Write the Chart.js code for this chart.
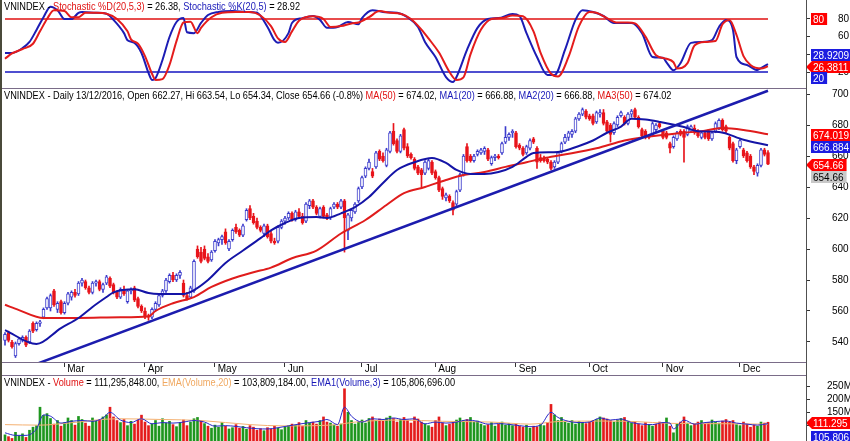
<!DOCTYPE html>
<html>
<head>
<meta charset="utf-8">
<script src="https://cdn.jsdelivr.net/npm/chart.js@4.4.1/dist/chart.umd.min.js"></script>
<style>
body { margin: 0; background: #fff; }
#wrap { position: relative; width: 850px; height: 441px; overflow: hidden; background: #fff; }
canvas { position: absolute; left: 0; }
.t { position: absolute; left: 4px; font-family: 'Liberation Sans', Arial, sans-serif;
     font-size: 11.5px; line-height: 12px; white-space: nowrap; color: #000;
     transform: scaleX(0.8); transform-origin: 0 0; }
.r { color: #e01010; }
.b { color: #1818b8; }
.o { color: #f0a860; }
.hl { position: absolute; left: 0; width: 806px; height: 1px; background: #7a6c88; }
</style>
</head>
<body>
<div id="wrap">
  <canvas id="cS" width="850" height="88" style="top:0"></canvas>
  <canvas id="cP" width="850" height="287" style="top:89px"></canvas>
  <canvas id="cV" width="850" height="65" style="top:376px"></canvas>
  <div class="hl" style="top:88px"></div>
  <div class="hl" style="top:362px"></div>
  <div class="hl" style="top:375px"></div>
  <div style="position:absolute;left:806px;top:0;width:1px;height:441px;background:#505050"></div>
  <div style="position:absolute;left:0;top:0;width:2px;height:441px;background:#4a4a3a"></div>
  <div class="t" style="top:0">VNINDEX - <span class="r">Stochastic %D(20,5,3)</span> = 26.38, <span class="b">Stochastic %K(20,5)</span> = 28.92</div>
  <div class="t" style="top:89px">VNINDEX - Daily 13/12/2016, Open 662.27, Hi 663.54, Lo 654.34, Close 654.66 (-0.8%) <span class="r">MA(50)</span> = 674.02, <span class="b">MA1(20)</span> = 666.88, <span class="b">MA2(20)</span> = 666.88, <span class="r">MA3(50)</span> = 674.02</div>
  <div class="t" style="top:376px">VNINDEX - <span class="r">Volume</span> = 111,295,848.00, <span class="o">EMA(Volume,20)</span> = 103,809,184.00, <span class="b">EMA1(Volume,3)</span> = 105,806,696.00</div>
</div>
<script>
// month start bars and labels
const monthIdx = [17, 40, 60, 80, 102, 123, 146, 167, 188, 210];
const monthLbl = ['Mar', 'Apr', 'May', 'Jun', 'Jul', 'Aug', 'Sep', 'Oct', 'Nov', 'Dec'];

// daily candles, 28/01/2016 .. 13/12/2016
const opens = [541,546,540,531,539,541,543,540,552,548,552,556,562,562,573,561,566,
  559,565,569,572,571,578,579,575,572,578,579,574,578,581,577,572,569,574,566,573,575,568,563,
  560,557,556,561,564,570,573,579,583,580,583,578,570,569,573,600,598,600,595,593,
  599,604,606,611,600,606,614,612,609,619,626,621,618,614,610,615,610,605,605,614,
  618,620,623,619,624,621,618,628,631,627,621,627,622,620,627,629,627,631,612,620,624,631,
  640,647,652,650,653,663,660,654,663,676,670,663,677,666,661,658,653,651,649,652,656,
  650,646,639,633,634,630,629,638,648,666,660,657,661,662,663,664,655,659,660,662,669,672,675,
  675,667,665,662,665,671,665,659,658,658,656,653,656,663,669,672,674,676,684,687,689,
  686,686,682,687,688,682,680,675,680,686,685,681,687,690,685,677,676,673,674,677,681,
  676,675,668,666,671,676,676,674,676,678,676,672,675,676,671,676,678,683,679,672,668,657,
  666,664,662,660,653,649,654,664,662.27];
const highs = [546,547,541,540,543,544,544,548,553,553,554,562,569,571,574,566,567,
  566,572,573,574,579,581,580,576,579,580,580,578,583,582,578,573,575,576,574,575,576,569,564,
  562,558,562,566,571,574,581,584,585,584,586,580,572,576,593,602,601,602,597,599,
  606,607,609,613,606,613,616,613,616,626,628,623,620,615,616,616,612,607,615,619,
  621,624,624,625,626,623,630,632,632,628,627,628,623,627,630,630,632,632,623,626,630,640,
  647,653,658,652,663,664,662,665,676,681,671,674,678,668,662,659,654,652,657,658,657,
  651,647,640,636,635,631,638,649,661,668,661,661,664,665,666,665,660,661,661,669,679,675,677,
  676,668,666,667,671,672,666,661,660,659,657,657,663,669,674,676,677,685,688,691,690,
  687,687,689,690,690,683,681,682,686,689,686,688,690,691,686,678,677,674,682,681,682,
  677,676,669,673,676,677,677,680,680,680,677,676,676,677,676,682,684,684,680,673,669,665,
  671,665,663,661,654,655,665,665,663.54];
const lows = [538,540,536,530,538,540,537,539,546,547,550,555,561,560,563,559,558,
  558,564,567,569,570,576,574,571,571,576,573,572,577,575,571,568,568,570,565,571,566,562,559,
  555,554,555,560,563,569,572,578,579,579,581,569,567,568,572,594,591,593,591,592,
  598,602,603,603,599,605,610,608,608,618,619,616,613,611,608,607,604,603,604,613,
  616,619,618,618,620,616,617,626,626,622,620,620,619,619,626,626,626,598,606,618,623,630,
  639,646,651,646,652,657,656,653,662,667,662,662,664,659,658,651,648,640,648,651,648,
  645,637,632,631,630,622,628,637,647,656,656,656,660,661,661,657,654,657,658,661,668,670,672,
  665,664,660,661,664,668,652,656,656,655,651,652,655,662,668,670,672,675,683,686,684,
  683,680,681,685,680,675,669,674,679,685,680,680,685,684,678,672,671,671,673,675,678,
  671,671,662,665,670,673,656,673,675,674,672,671,671,670,670,675,677,676,675,664,656,655,
  665,659,656,652,648,647,653,660,654.34];
const closes = [545,541,537,539,542,543,538,547,547,552,553,561,568,570,564,565,559,
  565,571,572,570,578,580,575,572,578,579,574,577,582,576,572,569,574,571,573,574,567,563,560,
  557,556,561,565,570,573,580,583,580,583,585,570,568,575,592,595,592,594,592,598,
  605,606,608,604,605,612,611,609,615,625,620,617,614,612,615,608,605,604,614,618,
  620,623,619,624,621,617,629,631,627,623,626,621,620,626,629,627,631,620,622,625,629,639,
  646,652,656,647,662,658,657,664,675,668,663,673,665,660,659,652,649,648,656,657,649,
  646,638,634,635,631,625,637,648,660,657,657,660,663,664,665,658,659,660,659,668,672,674,676,
  666,665,661,666,670,669,656,657,657,656,652,656,662,668,672,675,676,684,687,690,685,
  684,681,688,688,681,676,674,681,685,688,681,687,689,685,679,673,672,672,681,680,679,
  672,672,665,672,675,674,672,679,679,675,673,675,672,671,675,681,683,677,676,665,657,664,
  670,660,657,653,650,654,664,661,654.66];
// volume, millions
const vols = [62,55,48,72,58,66,52,80,92,98,170,138,145,126,104,118,96,
  110,128,118,100,134,122,108,96,128,115,120,132,140,170,132,118,110,122,98,115,104,120,139,
  112,98,105,118,96,125,108,115,102,94,110,120,98,112,125,130,118,106,96,88,
  100,92,110,96,85,90,102,88,95,84,98,92,80,86,78,90,84,96,88,82,
  92,98,104,100,110,96,118,108,112,104,118,132,112,108,100,96,104,242,150,118,104,112,
  120,108,126,132,118,124,115,128,135,126,112,122,130,118,108,132,124,112,104,98,92,
  118,132,108,98,104,112,120,128,118,122,130,112,116,104,98,102,110,96,104,112,100,106,98,
  104,96,92,100,88,96,94,102,98,110,181,140,118,130,112,108,118,104,114,110,106,
  112,118,122,132,128,124,118,112,120,126,130,116,108,112,104,98,110,102,96,104,112,
  110,128,96,70,104,112,132,108,98,104,112,118,104,110,120,112,108,116,122,112,118,102,
  98,112,104,92,100,96,112,108,111.3];

// moving averages (bar index, value)
const ma20Idx = [0,9,16,21,25,29,31,37,41,44,51,54,58,63,68,73,76,80,84,89,92,96,100,104,108,112,117,122,126,129,
  133,137,141,145,149,151,158,164,168,172,176,179,183,187,194,198,204,211,218];
const ma20Val = [547.7,538.7,549,555.5,562.6,569,572,574,571.6,571,571,573.5,580,591,599,607,612,616.8,620,620.6,
  620,623,627,633.5,642.6,651,656,658.7,655.5,651,648.4,648.4,649.7,653,659.4,662,662.6,666.5,670,675,
  679,684,683.5,682,678.7,676,675.5,670.5,666.88];
const ma50Idx = [0,4,11,21,33,41,43,48,54,59,65,71,76,82,89,96,103,109,114,120,126,131,137,143,149,154,159,169,177,182,
  188,194,199,205,211,218];
const ma50Val = [564,560.6,555.5,555.5,556,556.5,560,565,569,575.5,581,585,588,594,599,610,618.7,628.4,636,640,
  644.5,647.7,649.7,653,656,658.5,660.6,665,670,672,673.5,675,676,678,676.8,674.02];
const trendIdx = [8, 218];
const trendVal = [525.0, 702.1];

// stochastic
const kIdx = [0,2,5,7,9,11,13,15,17,19,21,22,26,29,31,34,35,37,39,41,42,43,45,47,49,51,52,54,56,58,
  61,65,69,72,75,77,78,81,82,85,88,90,92,95,98,101,102,105,108,112,115,118,120,123,126,128,129,132,135,138,
  141,145,147,149,152,155,157,160,163,165,168,171,174,176,179,182,185,188,189,191,193,196,199,202,204,206,208,209,212,215,
  216,218];
const kVal = [41.5,41.5,47,54,67.6,82,94,90,80,80,87,88,87,86,79,64,56,53,41.5,19,11,13,33.6,59.6,76.6,81,65,64,75.5,84.5,
  88,89,88,87,71,56,53,64,75.5,81,83.4,79,70,71,76.6,74,81,90,88,87,82,71,54,37,14.3,8.7,14.3,45,70,80,
  81,85.7,83.4,64,37,16.6,16.6,45,79,90,88,83.4,75.5,75.5,75.5,64,37,36,31,22,30,53,54,56,71,79,67.6,37,28,22.3,
  24.5,28.92];
const dIdx = [0,2,5,8,10,12,14,17,19,21,23,26,29,32,35,36,38,40,42,43,45,47,49,51,53,55,56,59,62,66,
  70,73,76,78,80,82,84,88,91,93,96,99,101,104,107,110,113,116,119,121,124,127,129,131,133,136,139,142,145,148,
  151,153,156,158,161,164,167,169,172,175,178,180,183,186,189,191,192,195,197,200,203,205,207,209,211,213,216,218];
const dVal = [35,41,46,52,66,80,90,89,82,82,87,87,86,80,66,57,52,38,18,11,12,28,55,76,77,64,70,82,87,88,
  88,84,72,58,54,66,78,83,80,71,72,75,76,82,89,87,86,80,68,58,42,20,11,14,40,68,80,81,84,83,
  66,42,18,15,37,72,88,87,81,76,76,75,60,39,35,31,24,30,50,54,55,74,79,62,38,28,24,26.38];

// volume averages, millions
const ema20Idx = [0,10,18,32,45,56,70,80,94,100,113,125,139,150,158,170,180,190,200,210,218];
const ema20Val = [102,100,108,125,122,118,102,97,101,112,120,115,112,104,114,116,114,107,106,105,103.8];
const ema3Idx = [0,3,6,9,11,13,16,19,22,25,28,30,33,36,39,42,45,48,51,54,57,60,63,66,69,72,75,78,81,84,
  87,90,92,95,97,99,102,105,108,111,114,117,120,123,126,129,132,135,138,141,144,147,150,153,156,158,161,164,167,170,
  173,176,179,182,185,188,190,191,194,197,200,203,206,209,212,215,218];
const ema3Val = [70,60,60,85,140,135,108,115,118,115,128,150,120,110,125,105,110,108,112,118,112,96,98,95,90,86,85,90,97,104,
  110,115,122,102,170,135,112,125,122,128,122,125,105,112,108,112,120,115,104,106,103,98,94,100,150,130,115,110,112,128,
  120,124,110,104,102,110,108,85,120,104,110,114,116,108,104,100,105.8];

const FONT = "'Liberation Sans',Arial,sans-serif";
const RED = '#e8141b', BLUE = '#3c3ccc';
const X_MIN = -0.857, X_MAX = 228.86;

const pts = (ix, vals) => ix.map((x, j) => ({ x: x, y: vals[j] }));
const up = closes.map((c, i) => c >= opens[i]);
const volUp = closes.map((c, i) => i === 0 || c >= closes[i - 1]);

function xOpts(show) {
  return {
    type: 'linear', bounds: 'data', offset: false, min: X_MIN, max: X_MAX, display: show,
    afterBuildTicks: s => { s.ticks = monthIdx.map(v => ({ value: v })); },
    afterFit: s => { if (show) s.height = 13; s.paddingLeft = 0; s.paddingRight = 0; },
    ticks: { autoSkip: false, maxRotation: 0, minRotation: 0, align: 'start', padding: -4, color: '#000',
      font: { family: FONT, size: 10 }, callback: v => ' ' + monthLbl[monthIdx.indexOf(v)] },
    grid: { drawOnChartArea: false, offset: false, tickLength: 4, color: '#333' },
    border: { display: false }
  };
}

function yOpts(min, max, ticks, pad, fmt) {
  return {
    position: 'right', bounds: 'data', min: min, max: max,
    afterBuildTicks: s => { s.ticks = ticks.map(v => ({ value: v })); },
    afterFit: s => { s.width = 44; s.paddingTop = 0; s.paddingBottom = 0; },
    ticks: { autoSkip: false, padding: pad, color: '#000', font: { family: FONT, size: 10 },
      callback: fmt || (v => v) },
    grid: { drawOnChartArea: false, tickLength: 4, color: '#333' },
    border: { display: false }
  };
}

// coloured last-value boxes on the right axis
function boxes(items) {
  return {
    id: 'vb',
    afterDraw(chart) {
      const ctx = chart.ctx, ys = chart.scales.y;
      ctx.save();
      ctx.font = '10px ' + FONT;
      ctx.textBaseline = 'middle';
      items.forEach(b => {
        const cy = Math.round(ys.getPixelForValue(b.v) + b.dy);
        const w = ctx.measureText(b.t).width + 5;
        ctx.fillStyle = b.bg;
        ctx.beginPath();
        if (b.arrow) {
          ctx.moveTo(806, cy); ctx.lineTo(812, cy - 6); ctx.lineTo(811 + w, cy - 6);
          ctx.lineTo(811 + w, cy + 6); ctx.lineTo(812, cy + 6); ctx.closePath();
        } else {
          ctx.rect(811, cy - 6, w, 12);
        }
        ctx.fill();
        ctx.fillStyle = b.fg || '#fff';
        ctx.fillText(b.t, 813, cy + 1);
      });
      ctx.restore();
    }
  };
}

const common = {
  responsive: false, animation: false, devicePixelRatio: 1, events: [],
  layout: { padding: { left: 2, right: 0, top: 0, bottom: 0 } },
  plugins: { legend: { display: false }, tooltip: { enabled: false } }
};

const line = (data, color, width, order, smooth) => ({
  type: 'line', data: data, borderColor: color, borderWidth: width, pointRadius: 0,
  cubicInterpolationMode: smooth ? 'monotone' : 'default', tension: 0, order: order
});

// stochastic panel
new Chart(document.getElementById('cS'), {
  type: 'line',
  data: { datasets: [
    line(pts(dIdx, dVal), '#e41c1c', 2, 0, true),
    line(pts(kIdx, kVal), '#1c1cb4', 2, 1, true),
    line([{ x: 0, y: 80 }, { x: 218, y: 80 }], '#e01010', 1.5, 2),
    line([{ x: 0, y: 20 }, { x: 218, y: 20 }], '#1414c0', 1.5, 2)
  ] },
  options: Object.assign({}, common, {
    scales: { x: xOpts(false), y: yOpts(1.89, 101.5, [20, 40, 60, 80], 28) }
  }),
  plugins: [boxes([
    { v: 80, t: '80', bg: '#ff0000', dy: 0 },
    { v: kVal[kVal.length - 1], t: '28.9209', bg: '#1c1ce0', dy: -9 },
    { v: dVal[dVal.length - 1], t: '26.3811', bg: '#ff0000', dy: 1, arrow: true },
    { v: 20, t: '20', bg: '#1c1ce0', dy: 6 }
  ])]
});

// price panel
new Chart(document.getElementById('cP'), {
  type: 'bar',
  data: { datasets: [
    line(pts(trendIdx, trendVal), '#1c1cae', 2.5, 0),
    line(pts(ma20Idx, ma20Val), '#1414a6', 2, 1, true),
    line(pts(ma50Idx, ma50Val), '#e01c1c', 2, 2, true),
    { type: 'bar', data: closes.map((c, i) => ({ x: i, y: [opens[i], c] })),
      backgroundColor: up.map(u => u ? '#ffffff' : RED), borderColor: up.map(u => u ? BLUE : RED),
      borderWidth: 1, borderSkipped: false, barThickness: 3, grouped: false, order: 3 },
    { type: 'bar', data: closes.map((c, i) => ({ x: i, y: [lows[i], highs[i]] })),
      backgroundColor: up.map(u => u ? BLUE : RED), barThickness: 1, grouped: false, order: 4 }
  ] },
  options: Object.assign({}, common, {
    scales: { x: xOpts(true), y: yOpts(526.45, 703.23, [540, 560, 580, 600, 620, 640, 660, 680, 700], 22) }
  }),
  plugins: [boxes([
    { v: ma50Val[ma50Val.length - 1], t: '674.019', bg: '#ff0000', dy: 1 },
    { v: ma20Val[ma20Val.length - 1], t: '666.884', bg: '#1c1ce0', dy: 2 },
    { v: closes[closes.length - 1], t: '654.66', bg: '#ff0000', dy: 1, arrow: true },
    { v: closes[closes.length - 1], t: '654.66', bg: '#c8c8c8', fg: '#000', dy: 13 }
  ])]
});

// volume panel
new Chart(document.getElementById('cV'), {
  type: 'bar',
  data: { datasets: [
    line(pts(ema3Idx, ema3Val), '#2828c8', 1, 0, true),
    line(pts(ema20Idx, ema20Val), '#f4b070', 1, 1, true),
    { type: 'bar', data: vols.map((v, i) => ({ x: i, y: v })),
      backgroundColor: volUp.map(u => u ? '#1e961e' : '#e41c1c'), barThickness: 2, grouped: false, order: 2 }
  ] },
  options: Object.assign({}, common, {
    scales: { x: xOpts(false), y: yOpts(38, 292, [100, 150, 200, 250], 17, v => v + 'M') }
  }),
  plugins: [boxes([
    { v: vols[vols.length - 1], t: '111.295', bg: '#ff0000', dy: 1, arrow: true },
    { v: ema3Val[ema3Val.length - 1], t: '105,806,696', bg: '#1c1ce0', dy: 13 }
  ])]
});
</script>
</body>
</html>
